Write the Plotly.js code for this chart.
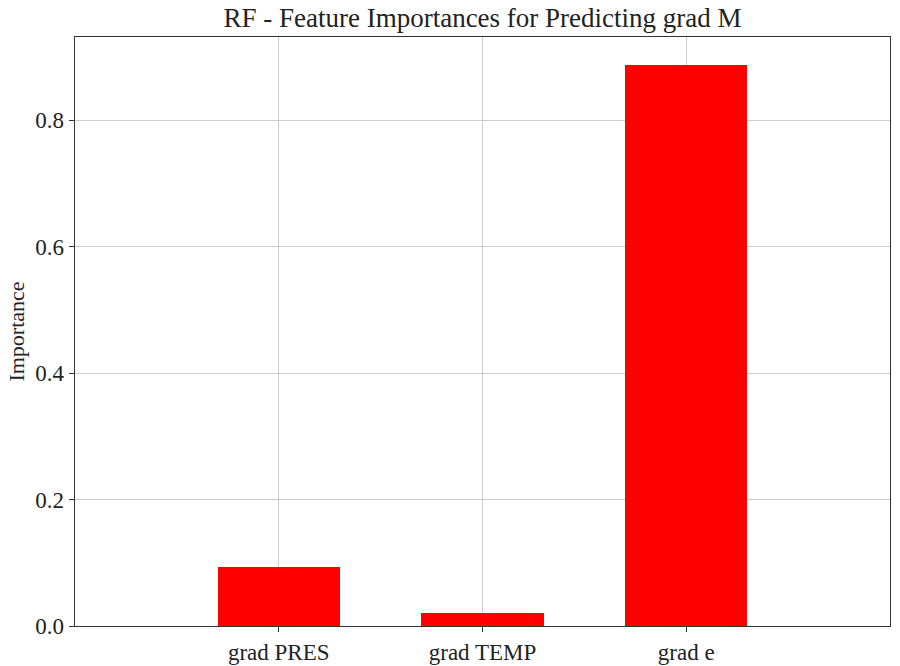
<!DOCTYPE html>
<html>
<head>
<meta charset="utf-8">
<script src="https://cdn.plot.ly/plotly-3.0.1.min.js"></script>
<style>html,body{margin:0;padding:0;background:#fff;}#chart{width:900px;height:666px;}</style>
</head>
<body>
<div id="chart"></div>
<script>
const features = ["grad PRES", "grad TEMP", "grad e"];
const importances = [0.093, 0.021, 0.887];
const yTicks = [0.0, 0.2, 0.4, 0.6, 0.8];
const yTickLabels = ["0.0", "0.2", "0.4", "0.6", "0.8"];

const fontFamily = "'Liberation Serif', 'Times New Roman', serif";

const trace = {
  type: "bar",
  x: features.map((_, i) => i),
  y: importances,
  width: 0.6,
  marker: {color: "#ff0000", line: {width: 0}},
  hoverinfo: "x+y"
};

const layout = {
  width: 900, height: 666,
  margin: {l: 75, r: 10, t: 37, b: 40},
  paper_bgcolor: "#fff", plot_bgcolor: "#fff",
  font: {family: fontFamily, size: 22, color: "#222"},
  title: {text: "RF - Feature Importances for Predicting grad M", font: {family: fontFamily, size: 27, color: "#222"}, xref: "paper", x: 0.5, xanchor: "center", y: 0.974, yanchor: "middle"},
  showlegend: false,
  bargap: 0,
  xaxis: {
    range: [-1, 3],
    tickmode: "array",
    tickvals: features.map((_, i) => i),
    ticktext: features,
    tickfont: {size: 23},
    showgrid: true, gridcolor: "#cccccc", gridwidth: 1,
    showline: true, linecolor: "#333", linewidth: 1.3, mirror: true,
    ticks: "outside", ticklen: 5, tickcolor: "#333",
    zeroline: false,
    fixedrange: true
  },
  yaxis: {
    range: [0, 0.887 * 1.05],
    tickmode: "array",
    tickvals: yTicks,
    ticktext: yTickLabels,
    tickfont: {size: 23},
    showgrid: true, gridcolor: "#cccccc", gridwidth: 1,
    showline: true, linecolor: "#333", linewidth: 1.3, mirror: true,
    ticks: "outside", ticklen: 5, tickcolor: "#333",
    zeroline: false,
    title: {text: "Importance", font: {family: fontFamily, size: 22, color: "#222"}, standoff: 4},
    fixedrange: true
  }
};

Plotly.newPlot("chart", [trace], layout, {displayModeBar: false, staticPlot: true});
</script>
</body>
</html>
